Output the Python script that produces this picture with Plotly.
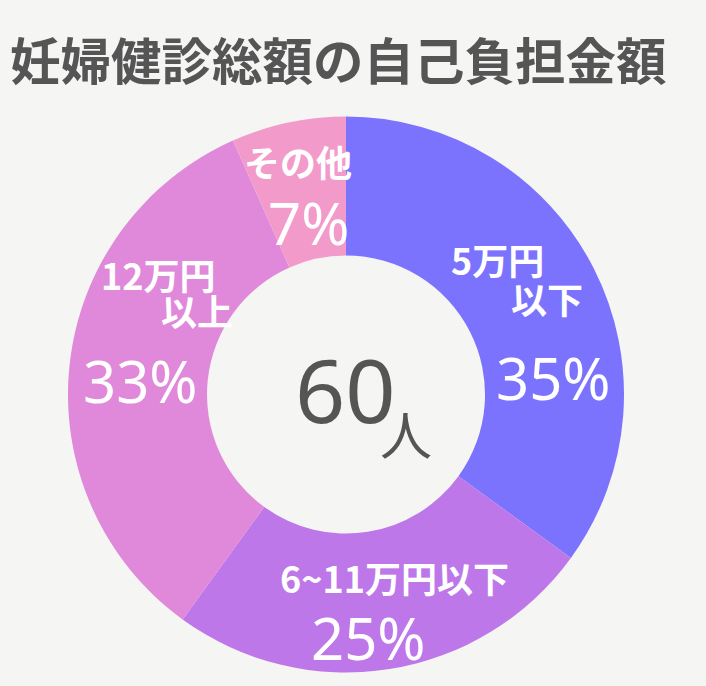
import plotly.graph_objects as go

# data (60 respondents)
categories = ["5万円以下", "6~11万円以下", "12万円以上", "その他"]
counts = [21, 15, 20, 4]
colors = ["#7B73FE", "#BD77E9", "#E088D9", "#F29BCB"]

title_text = "妊婦健診総額の自己負担金額"
unit_text = "人"

W, H = 706, 686
BG = "#F5F5F3"
FONT = "Noto Sans CJK JP"


def px(x):
    return x / W


def py(y):
    return 1 - y / H


# how each category label is broken into lines + where the text blocks sit (px)
label_lines = {
    "5万円以下": ["5万円", "以下"],
    "6~11万円以下": ["6~11万円以下"],
    "12万円以上": ["12万円", "以上"],
    "その他": ["その他"],
}
label_pos = {
    "5万円以下": [(449, 259, "left"), (509, 298, "left")],
    "6~11万円以下": [(394, 577, "center")],
    "12万円以上": [(99, 274, "left"), (159, 310, "left")],
    "その他": [(298, 161, "center")],
}
pct_pos = {
    "5万円以下": (553, 378),
    "6~11万円以下": (368, 637),
    "12万円以上": (140, 380),
    "その他": (308, 222),
}

fig = go.Figure(
    go.Pie(
        labels=categories,
        values=counts,
        hole=0.5,
        sort=False,
        direction="clockwise",
        rotation=0,
        marker=dict(colors=colors, line=dict(width=0)),
        textinfo="none",
        hoverinfo="label+percent",
        domain=dict(x=[px(68), px(624)], y=[py(672.5), py(116.5)]),
        showlegend=False,
    )
)

total = sum(counts)
annotations = []
for cat, n in zip(categories, counts):
    for line, (x, y, anchor) in zip(label_lines[cat], label_pos[cat]):
        annotations.append(
            dict(
                x=px(x), y=py(y), xref="paper", yref="paper",
                text=f"<b>{line}</b>", showarrow=False,
                xanchor=anchor, yanchor="middle",
                font=dict(family=FONT, size=36, color="#FFFFFF"),
            )
        )
    x, y = pct_pos[cat]
    annotations.append(
        dict(
            x=px(x), y=py(y), xref="paper", yref="paper",
            text=f"{round(n / total * 100)}%", showarrow=False,
            xanchor="center", yanchor="middle",
            font=dict(family="Noto Sans", size=58, color="#FFFFFF"),
        )
    )

# total in the middle of the donut
annotations.append(
    dict(
        x=px(345), y=py(389), xref="paper", yref="paper",
        text=str(total), showarrow=False, xanchor="center", yanchor="middle",
        font=dict(family="Noto Sans", size=88, color="#555555"),
    )
)
annotations.append(
    dict(
        x=px(406), y=py(432), xref="paper", yref="paper",
        text=unit_text, showarrow=False, xanchor="center", yanchor="middle",
        font=dict(family=FONT, size=52, color="#555555"),
    )
)

fig.update_layout(
    width=W,
    height=H,
    margin=dict(l=0, r=0, t=0, b=0),
    paper_bgcolor=BG,
    plot_bgcolor=BG,
    title=dict(
        text=f"<b>{title_text}</b>",
        x=px(10), xanchor="left",
        y=py(62), yanchor="middle",
        font=dict(family=FONT, size=50.5, color="#555555"),
    ),
    annotations=annotations,
)

# drop the default 8px body margin so the figure fills the window
fig.write_html(
    "out.html",
    config={"displayModeBar": False},
    post_script="document.body.style.margin='0';",
)
